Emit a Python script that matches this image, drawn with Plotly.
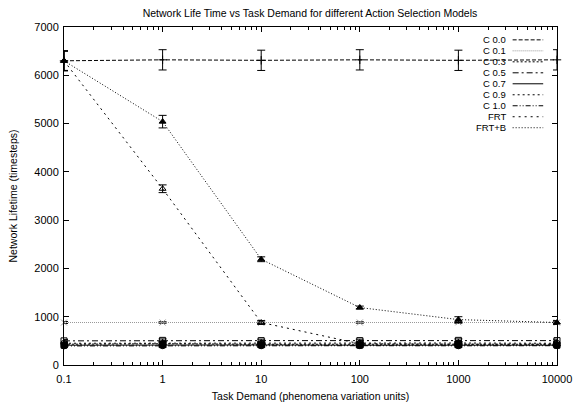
import plotly.graph_objects as go

task_demand = [0.1, 1, 10, 100, 1000, 10000]

series_names = ["C 0.0", "C 0.1", "C 0.3", "C 0.5", "C 0.7", "C 0.9", "C 1.0", "FRT", "FRT+B"]

c00 = [6300, 6320, 6310, 6320, 6310, 6320]
c00_err = [210, 210, 210, 210, 210, 210]
c01 = [880, 880, 875, 880, 885, 880]
c01_err = [20, 15, 15, 15, 20, 15]
c03 = [430, 440, 430, 430, 440, 430]
c03_err = [30, 30, 30, 30, 30, 30]
c05 = [500, 510, 505, 505, 510, 505]
c05_err = [30, 30, 30, 30, 30, 30]
c07 = [410, 420, 415, 410, 415, 410]
c07_err = [30, 30, 30, 30, 30, 30]
c09 = [450, 455, 450, 450, 455, 450]
c09_err = [30, 30, 30, 30, 30, 30]
c10 = [395, 400, 398, 400, 398, 400]
c10_err = [30, 30, 30, 30, 30, 30]
frt = [6300, 3650, 880, 440, 430, 430]
frt_err = [200, 80, 40, 20, 20, 20]
frtb = [6300, 5040, 2190, 1190, 940, 880]
frtb_err = [200, 130, 50, 30, 60, 40]

values = [c00, c01, c03, c05, c07, c09, c10, frt, frtb]
errors = [c00_err, c01_err, c03_err, c05_err, c07_err, c09_err, c10_err, frt_err, frtb_err]

colors = ["black", "#999999", "black", "black", "black", "black", "black", "black", "black"]
dashes = ["4px,2px", "1px,1px", "2px,2px", "6px,3px,2px,3px", "solid", "2px,3px",
          "5px,2px,1px,2px,1px,2px", "2px,4px", "1px,2px"]
symbols = ["cross-thin-open", "x-thin-open", "asterisk-open", "square-open", "square",
           "circle-open", "circle", "triangle-up-open", "triangle-up"]

fig = go.Figure()
for name, v, e, c, d, s in zip(series_names, values, errors, colors, dashes, symbols):
    fig.add_trace(go.Scatter(
        x=task_demand, y=v, name=name, mode="lines+markers",
        line=dict(color=c, width=1, dash=d),
        marker=dict(symbol=s, size=6, color=c, line=dict(color=c, width=1)),
        error_y=dict(type="data", array=e, visible=True, color="black", thickness=1, width=4),
        showlegend=False, cliponaxis=False,
    ))

# gnuplot-style key: text right-aligned, then line sample
key_top = 0.962
key_step = 0.0325
for i, (name, c, d) in enumerate(zip(series_names, colors, dashes)):
    yk = key_top - i * key_step
    fig.add_annotation(x=0.899, y=yk, xref="paper", yref="paper", text=name,
                       showarrow=False, xanchor="right", yanchor="middle",
                       borderpad=0, font=dict(size=9.5, color="black"))
    fig.add_shape(type="line", xref="paper", yref="paper", x0=0.910, x1=0.972,
                  y0=yk, y1=yk, line=dict(color=c, width=1, dash=d))

font = "Liberation Sans, Arial, sans-serif"
fig.update_layout(
    width=574, height=403,
    margin=dict(l=64, r=17, t=27, b=38),
    paper_bgcolor="white", plot_bgcolor="white",
    font=dict(family=font, size=11, color="black"),
    title=dict(text="Network Life Time vs Task Demand for different Action Selection Models",
               x=0.54, xanchor="center", y=0.968, yanchor="middle", font=dict(size=10.5)),
)
fig.update_xaxes(
    type="log", range=[-1, 4], automargin=False,
    tickvals=[0.1, 1, 10, 100, 1000, 10000],
    ticktext=["0.1", "1", "10", "100", "1000", "10000"],
    ticks="inside", ticklen=5, tickcolor="black", ticklabelstandoff=4,
    minor=dict(ticks="inside", ticklen=3, dtick="D1", tickcolor="black", showgrid=False),
    showline=True, linecolor="black", linewidth=1, mirror="allticks",
    showgrid=False, zeroline=False,
    title=dict(text="Task Demand (phenomena variation units)", standoff=8, font=dict(size=10.5)),
)
fig.update_yaxes(
    range=[0, 7000], dtick=1000, automargin=False,
    ticks="inside", ticklen=5, tickcolor="black", ticklabelstandoff=2,
    showline=True, linecolor="black", linewidth=1, mirror="allticks",
    showgrid=False, zeroline=False,
    title=dict(text="Network Lifetime (timesteps)", standoff=14, font=dict(size=10.5)),
)

fig.write_html("out.html")
